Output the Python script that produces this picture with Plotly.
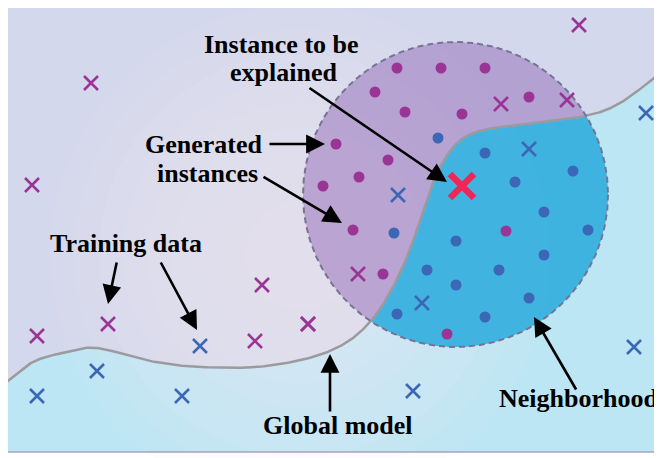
import numpy as np
import plotly.graph_objects as go

# ---------------- data (pixel space of the 662x458 picture) ----------------
purple_dot_x = [397, 441, 485, 375, 405, 462, 529, 336, 388, 359, 323, 353, 506, 383, 447]
purple_dot_y = [68, 68, 68, 92, 112, 114, 97, 144, 160, 177, 186, 230, 231, 274, 334]

blue_dot_x = [438, 485, 573, 515, 544, 394, 456, 588, 544, 427, 499, 456, 529, 397, 485]
blue_dot_y = [138, 153, 171, 182, 212, 233, 241, 230, 255, 270, 270, 285, 298, 314, 317]

purple_cross_x = [91, 579, 32, 262, 108, 37, 255, 308, 501, 567, 358, 308]
purple_cross_y = [83, 25, 185, 285, 324, 336, 341, 324, 104, 100, 274, 324]

blue_cross_x = [646, 200, 97, 37, 182, 413, 634, 529, 398, 422]
blue_cross_y = [113, 346, 371, 396, 396, 391, 347, 149, 195, 303]

target_x = [462]
target_y = [186]

boundary_x = [4, 33, 67, 97, 150, 200, 267, 330, 370, 400, 423, 437, 457, 483, 523, 585, 620, 662]
boundary_y = [384, 362, 352, 348, 361, 367, 366, 351, 322, 273, 213, 173, 143, 130, 125, 116, 103, 72]

circle_cx, circle_cy, circle_r = 455.5, 194.5, 152.5

labels = ["Instance to be", "explained", "Generated", "instances",
          "Training data", "Global model", "Neighborhood"]
label_x = [281, 283, 204, 207, 126, 338, 578]
label_y = [44, 72, 144, 173, 243, 425, 398]

# arrows: (tail_x, tail_y, tip_x, tip_y)
arrow_tail_x = [308, 268, 262, 117, 160, 330, 577]
arrow_tail_y = [87, 144, 176, 261, 261, 413, 391]
arrow_tip_x = [447, 325, 342, 108, 197, 330, 534]
arrow_tip_y = [182, 144, 223, 304, 330, 354, 317]

# ---------------- colours ----------------
C_BG = "rgb(212,216,236)"
C_LOW = "rgb(188,230,243)"
C_PURPLE = "#9a3595"
C_BLUE = "#3b67b6"
C_RED = "#ee2757"
C_CIRC_P = "rgba(150,112,186,0.52)"
C_CIRC_C = "rgba(40,182,226,0.82)"

# the page body has an 8px margin; the figure is sized to fit the window
PAGE_MARGIN = 8
FIG_W, FIG_H = 662 - PAGE_MARGIN, 458 - PAGE_MARGIN


def catmull_rom(xs, ys, n=24):
    pts = np.column_stack([xs, ys]).astype(float)
    p = np.vstack([2 * pts[0] - pts[1], pts, 2 * pts[-1] - pts[-2]])
    out = []
    for i in range(1, len(p) - 2):
        p0, p1, p2, p3 = p[i - 1], p[i], p[i + 1], p[i + 2]
        t = np.linspace(0, 1, n, endpoint=False)[:, None]
        seg = 0.5 * ((2 * p1) + (-p0 + p2) * t + (2 * p0 - 5 * p1 + 4 * p2 - p3) * t ** 2
                     + (-p0 + 3 * p1 - 3 * p2 + p3) * t ** 3)
        out.append(seg)
    out.append(pts[-1][None, :])
    c = np.vstack(out)
    return c[:, 0], c[:, 1]


bx, by = catmull_rom(boundary_x, boundary_y)

# circle polygon
theta = np.linspace(0, 2 * np.pi, 1441)[:-1]
px = circle_cx + circle_r * np.cos(theta)
py = circle_cy + circle_r * np.sin(theta)
below = py > np.interp(px, bx, by)
start = int(np.argmin(below))
idx = np.roll(np.arange(len(theta)), -start)
run = idx[below[idx]]
arc_x, arc_y = px[run], py[run]
x_end, x_start = arc_x[-1], arc_x[0]
lo, hi = min(x_end, x_start), max(x_end, x_start)
m = (bx > lo) & (bx < hi)
sx, sy = bx[m], by[m]
if x_end > x_start:
    sx, sy = sx[::-1], sy[::-1]
cyan_x = np.concatenate([arc_x, sx])
cyan_y = np.concatenate([arc_y, sy])

fig = go.Figure()


def area(x, y, color):
    fig.add_trace(go.Scatter(x=list(x) + [x[0]], y=list(y) + [y[0]], mode="lines",
                             fill="toself", fillcolor=color, line=dict(width=0),
                             hoverinfo="skip", showlegend=False))


# background
area([4, 663, 663, 4], [3, 3, 452, 452], C_BG)
# lower class region
area(list(bx) + [663, 663, 4], list(by) + [452, 452, 452], C_LOW)
# soft glow
for rr in np.linspace(250, 30, 10):
    area(300 + rr * np.cos(theta), 255 + rr * np.sin(theta), "rgba(247,230,243,0.085)")
# neighbourhood circle
area(px, py, C_CIRC_P)
area(cyan_x, cyan_y, C_CIRC_C)

# decision boundary
fig.add_trace(go.Scatter(x=bx, y=by, mode="lines", line=dict(color="#9b9b9f", width=2.5),
                         hoverinfo="skip", showlegend=False))
# dashed circle outline
fig.add_trace(go.Scatter(x=list(px) + [px[0]], y=list(py) + [py[0]], mode="lines",
                         line=dict(color="#767492", width=2, dash="6px,4px"),
                         hoverinfo="skip", showlegend=False))

# markers
fig.add_trace(go.Scatter(x=purple_dot_x, y=purple_dot_y, mode="markers",
                         marker=dict(symbol="circle", size=11, color=C_PURPLE, line=dict(width=0)),
                         hoverinfo="skip", showlegend=False))
fig.add_trace(go.Scatter(x=blue_dot_x, y=blue_dot_y, mode="markers",
                         marker=dict(symbol="circle", size=11, color=C_BLUE, line=dict(width=0)),
                         hoverinfo="skip", showlegend=False))
fig.add_trace(go.Scatter(x=purple_cross_x, y=purple_cross_y, mode="markers",
                         marker=dict(symbol="x-thin", size=14, line=dict(color=C_PURPLE, width=2.6)),
                         hoverinfo="skip", showlegend=False))
fig.add_trace(go.Scatter(x=blue_cross_x, y=blue_cross_y, mode="markers",
                         marker=dict(symbol="x-thin", size=14, line=dict(color=C_BLUE, width=2.6)),
                         hoverinfo="skip", showlegend=False))
fig.add_trace(go.Scatter(x=target_x, y=target_y, mode="markers",
                         marker=dict(symbol="x-thin", size=24, line=dict(color=C_RED, width=6.5)),
                         hoverinfo="skip", showlegend=False))

# arrows
for tx, ty, hx, hy in zip(arrow_tail_x, arrow_tail_y, arrow_tip_x, arrow_tip_y):
    fig.add_annotation(x=hx, y=hy, ax=tx, ay=ty, xref="x", yref="y", axref="x", ayref="y",
                       text="", showarrow=True, arrowhead=2, arrowsize=1.45, arrowwidth=2.6,
                       arrowcolor="black", standoff=0, startstandoff=0)

# labels
for t, x, y in zip(labels, label_x, label_y):
    fig.add_annotation(x=x, y=y, xref="x", yref="y", text="<b>%s</b>" % t, showarrow=False,
                       xanchor="center", yanchor="middle",
                       font=dict(family="Liberation Serif", size=26, color="black"))

# frame
fig.add_shape(type="rect", x0=4, x1=664, y0=3, y1=452, xref="x", yref="y",
              line=dict(color="#a5a3c2", width=1.6), fillcolor="rgba(0,0,0,0)", layer="above")

fig.update_layout(width=FIG_W, height=FIG_H, margin=dict(l=0, r=0, t=0, b=0),
                  paper_bgcolor="white", plot_bgcolor="white", showlegend=False,
                  hovermode=False)
fig.update_xaxes(range=[PAGE_MARGIN, 662], visible=False, fixedrange=True)
fig.update_yaxes(range=[458, PAGE_MARGIN], visible=False, fixedrange=True)
fig.write_html("out.html")
